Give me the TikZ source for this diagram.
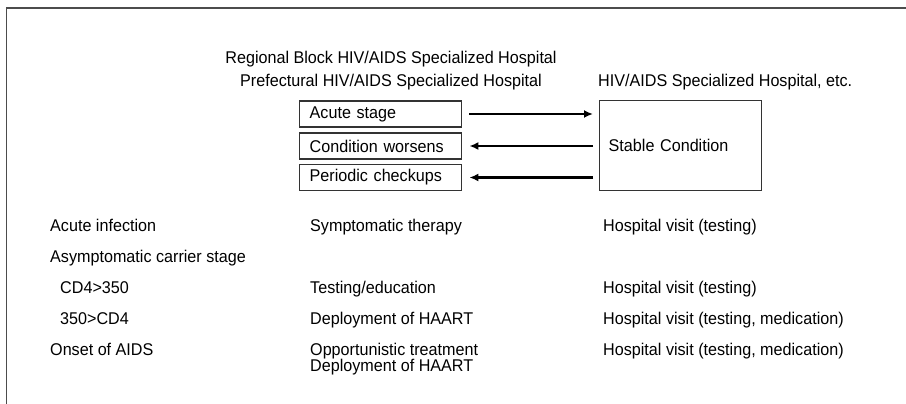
\documentclass[tikz,border=0pt]{standalone}
\usepackage{fontspec}
\setmainfont{Liberation Sans}[FakeStretch=0.95]
\usepackage{tikz}
\usetikzlibrary{arrows}
\usetikzlibrary{arrows.meta}

\begin{document}
\begin{tikzpicture}[x=1pt,y=-1pt,font=\fontsize{17}{15}\selectfont,
  stage/.style={draw=black!80,line width=1.4pt,rectangle,anchor=west,minimum height=26pt,
    inner xsep=10pt,text width=142pt,align=left},
  row/.style={anchor=base west,inner sep=0pt},
  flow/.style={-{Latex[length=9pt,width=8pt]},line width=2.2pt}]
\useasboundingbox (0,0) rectangle (906,404);
\draw[black!70,line width=1.6pt] (906,8) -- (6.5,8) -- (6.5,404);

\node[anchor=base,inner sep=0pt] (h1) at (391,64) {Regional Block HIV/AIDS Specialized Hospital};
\node[anchor=base,inner sep=0pt] (h2) at (391,87) {Prefectural HIV/AIDS Specialized Hospital};
\node[row] (h3) at (598,87) {HIV/AIDS Specialized Hospital, etc.};

\node[stage] (acute) at (299,114) {Acute stage};
\node[stage] (worse) at (299,146) {Condition worsens};
\node[stage] (check) at (299,177.5) {Periodic checkups};

\node[draw=black!80,line width=1.4pt,rectangle,anchor=north west,minimum height=90pt,
  inner xsep=9pt,text width=144pt,align=left] (stable) at (599,100) {Stable Condition};

\node[row] (r1) at (50,231) {Acute infection};
\node[row] (r2) at (50,262) {Asymptomatic carrier stage};
\node[row] (r3) at (60,293) {CD4>350};
\node[row] (r4) at (60,324) {350>CD4};
\node[row] (r5) at (50,355) {Onset of AIDS};

\node[row] (t1) at (310,231) {Symptomatic therapy};
\node[row] (t3) at (310,293) {Testing/education};
\node[row] (t4) at (310,324) {Deployment of HAART};
\node[anchor=north west,inner sep=0pt,align=left] (t5) at (310,342.5) {Opportunistic treatment\\Deployment of HAART};

\node[row] (v1) at (603,231) {Hospital visit (testing)};
\node[row] (v3) at (603,293) {Hospital visit (testing)};
\node[row] (v4) at (603,324) {Hospital visit (testing, medication)};
\node[row] (v5) at (603,355) {Hospital visit (testing, medication)};

\draw[flow, shorten <=7pt, shorten >=6pt] (acute.east) -- (acute.east -| stable.west);
\draw[flow, shorten <=6pt, shorten >=7pt] (worse.east -| stable.west) -- (worse.east);
\draw[flow, shorten <=6pt, shorten >=7pt] (check.east -| stable.west) -- (check.east);
\end{tikzpicture}
\end{document}
